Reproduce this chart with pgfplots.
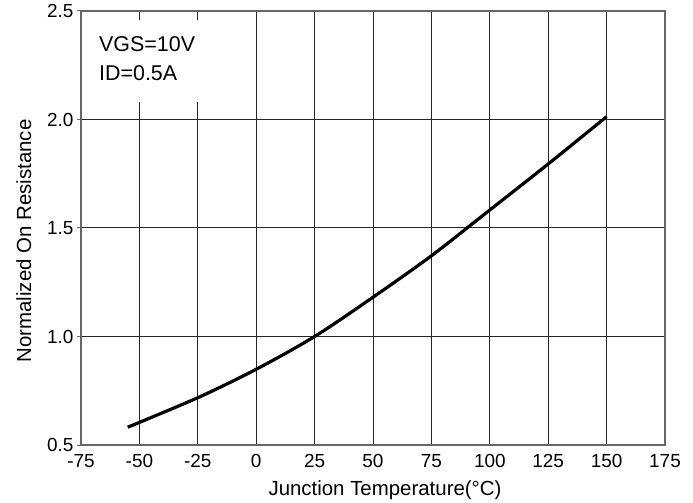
\documentclass[border=0pt]{standalone}
\usepackage{pgfplots}
\pgfplotsset{compat=1.18}
\usepackage{fontspec}
\setmainfont{Liberation Sans}
\begin{document}
\begin{tikzpicture}
\begin{axis}[
    scale only axis,
    width=584bp, height=434bp,
    xmin=-75, xmax=175, ymin=0.5, ymax=2.5,
    xtick={-75,-50,...,175},
    ytick={0.5,1.0,1.5,2.0,2.5},
    yticklabel style={/pgf/number format/.cd,fixed,fixed zerofill,precision=1},
    /pgf/number format/assume math mode=true,
    tick label style={font=\fontsize{19}{21}\selectfont, black},
    xticklabel style={anchor=north, yshift=-6bp},
    label style={font=\fontsize{20.5}{22}\selectfont},
    xlabel={Junction Temperature(°C)},
    ylabel={Normalized On Resistance},
    xlabel style={xshift=12bp, yshift=-6bp},
    ylabel style={xshift=-13bp, yshift=9bp},
    grid=major,
    major grid style={draw=black!85, line width=1bp},
    axis line style={draw=black!60, line width=1.3bp},
    xtick style={/pgfplots/major tick length=0pt},
    ytick style={draw=black!60, line width=1bp},
    ytick pos=left, xtick pos=bottom,
    ytick align=outside, major tick length=4bp,
]
\addplot[black, line width=3.2bp, smooth] coordinates {
    (-55,0.582) (-25,0.718) (0,0.849) (25,1.0) (50,1.181)
    (75,1.372) (100,1.583) (125,1.795) (150,2.013)
};
\end{axis}
\fill[white] (1bp,343bp) rectangle (159bp,425bp);
\node[anchor=base west, inner sep=0pt, font=\fontsize{21.5}{24}\selectfont] at (18bp,393bp) {VGS=10V};
\node[anchor=base west, inner sep=0pt, font=\fontsize{21.5}{24}\selectfont] at (18bp,364bp) {ID=0.5A};
\pgfresetboundingbox
\path[use as bounding box] (-81bp,-58bp) rectangle (612bp,445bp);
\end{tikzpicture}
\end{document}
